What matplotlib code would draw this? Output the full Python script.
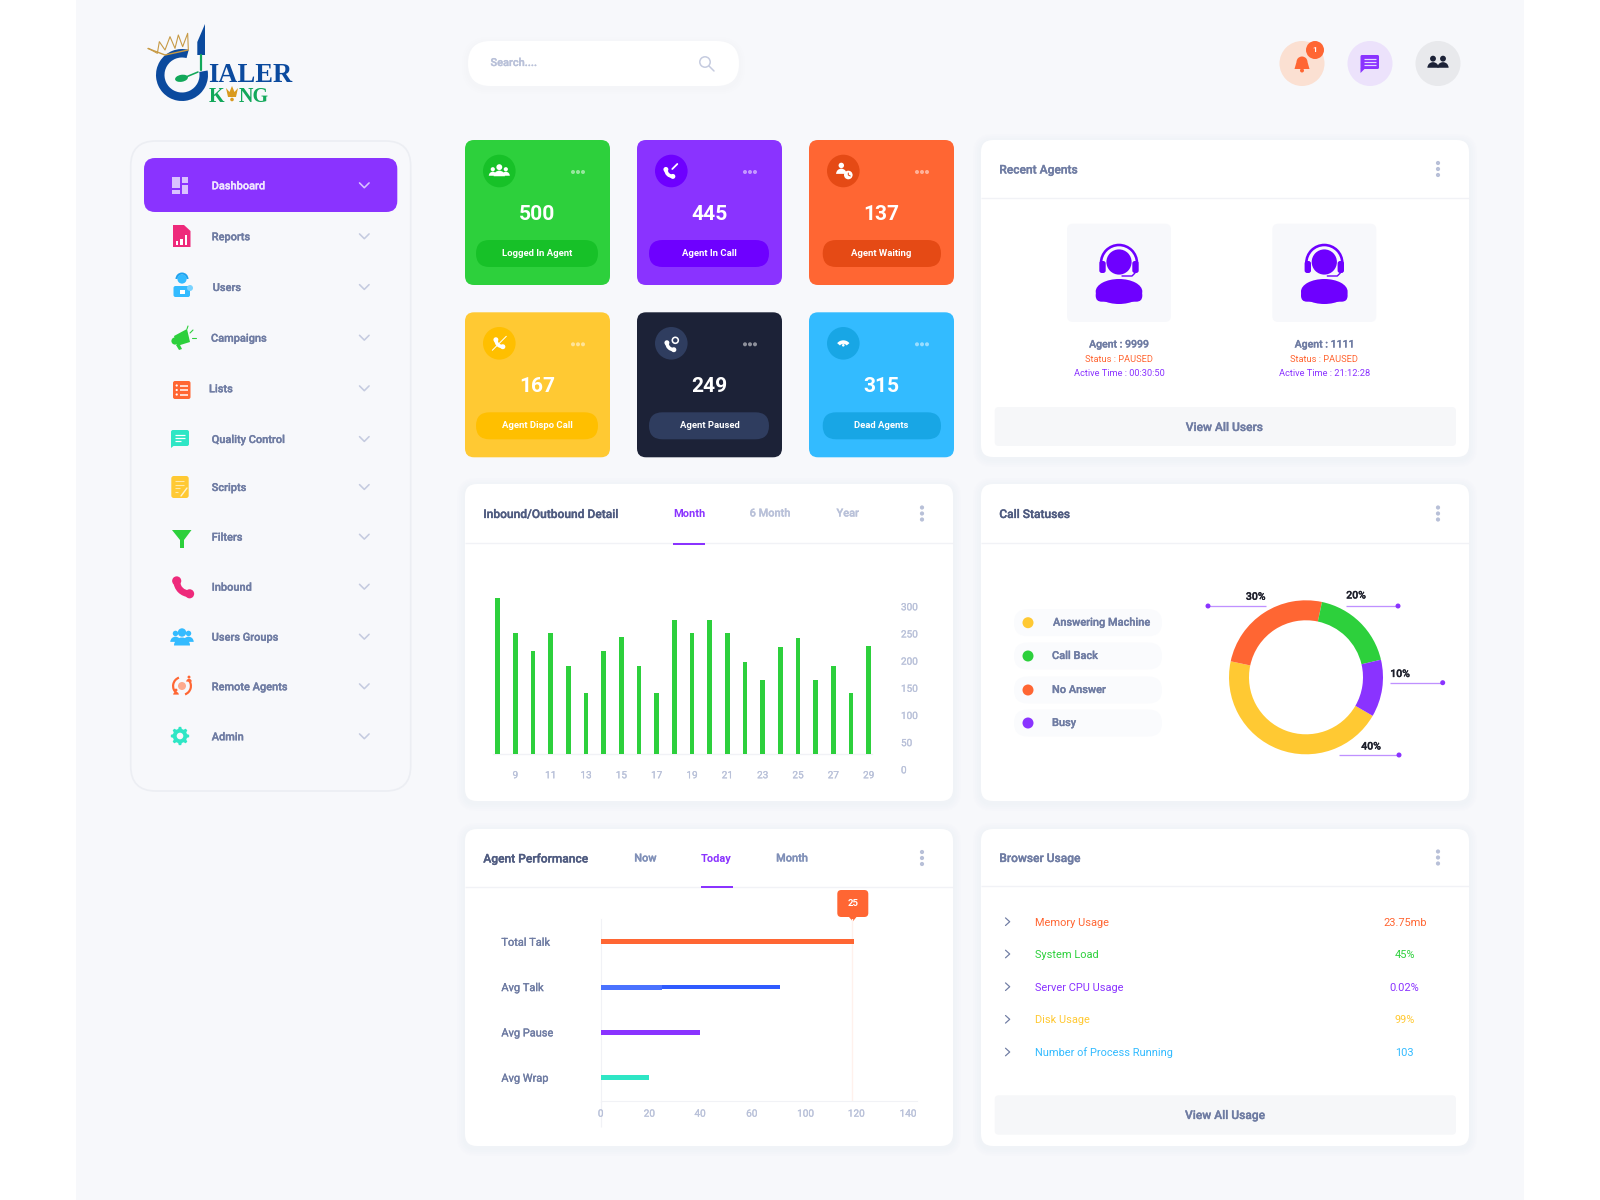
import numpy as np
from matplotlib import patheffects
from matplotlib import pyplot as plt
from matplotlib.patches import Circle, Ellipse, FancyBboxPatch, Polygon, Rectangle, Wedge

plt.rcParams["font.family"] = ["Roboto", "DejaVu Sans"]

W, H = 1600, 1200
PX = 0.72  # font px to points at dpi 100

PURPLE = "#8a33ff"
DEEP = "#6e00ff"
GREEN = "#2dd03c"
ORANGE = "#ff6633"
YELLOW = "#ffc933"
BLUE = "#33bbff"
TEAL = "#2ee6c5"
PINK = "#ee2a7b"
NAVY = "#1c2237"
TITLE = "#4f5b80"
MUTED = "#6f7ca3"
TICK = "#b9c1d9"
BG = "#f7f8fb"

# tiles
tile_values = ["500", "445", "137", "167", "249", "315"]
tile_labels = ["Logged In Agent", "Agent In Call", "Agent Waiting",
               "Agent Dispo Call", "Agent Paused", "Dead Agents"]
tile_colors = [GREEN, PURPLE, ORANGE, YELLOW, NAVY, BLUE]
tile_darks = ["#17c128", DEEP, "#e54a15", "#ffbf00", "#2f3d5f", "#18a6e5"]

# inbound/outbound bars
day_values = [8, 9, 10, 11, 12, 13, 14, 15, 16, 17, 18,
              19, 20, 21, 22, 23, 24, 25, 26, 27, 28, 29]
call_values = [315, 250, 217, 250, 190, 141, 217, 243, 190, 141, 275,
               250, 275, 250, 198, 165, 225, 241, 165, 190, 141, 226]
day_ticks = [9, 11, 13, 15, 17, 19, 21, 23, 25, 27, 29]
call_ticks = [0, 50, 100, 150, 200, 250, 300]

# call statuses
status_names = ["Answering Machine", "Call Back", "No Answer", "Busy"]
status_colors = [YELLOW, GREEN, ORANGE, PURPLE]
status_shares = [45, 18, 25, 12]
status_printed = ["40%", "20%", "30%", "10%"]

# agent performance
perf_names = ["Total Talk", "Avg Talk", "Avg Pause", "Avg Wrap"]
perf_values = [119, 81, 40, 20]
perf_colors = [ORANGE, "#2f5bff", PURPLE, TEAL]
perf_marker = 25
perf_ticks = [0, 20, 40, 60, 100, 120, 140]

# browser usage
usage_names = ["Memory Usage", "System Load", "Server CPU Usage", "Disk Usage",
               "Number of Process Running"]
usage_values = ["23.75mb", "45%", "0.02%", "99%", "103"]
usage_colors = [ORANGE, GREEN, PURPLE, YELLOW, BLUE]

# recent agents
agent_names = ["Agent : 9999", "Agent : 1111"]
agent_times = ["Active Time : 00:30:50", "Active Time : 21:12:28"]

menu_names = ["Reports", "Users", "Campaigns", "Lists", "Quality Control", "Scripts",
              "Filters", "Inbound", "Users Groups", "Remote Agents", "Admin"]
menu_y = [236.3, 287, 337.7, 388.3, 439, 487, 536.7, 586.7, 636.7, 686.3, 736.3]
menu_x = [211.7, 212.7, 211, 209, 211.7, 211.7, 211.7, 211.7, 211.7, 211.7, 211.7]


def px_axes(fig, left, top, right, bottom):
    ax = fig.add_axes([left / W, 1 - bottom / H, (right - left) / W, (bottom - top) / H])
    ax.patch.set_alpha(0)
    return ax


def box(ax, x0, y0, x1, y1, r, color, edge="none", lw=0, zorder=2, alpha=None):
    patch = FancyBboxPatch((x0 + r, y0 + r), x1 - x0 - 2 * r, y1 - y0 - 2 * r,
                           boxstyle=f"round,pad={r},rounding_size={r}", fc=color, ec=edge,
                           lw=lw, zorder=zorder, alpha=alpha)
    ax.add_patch(patch)


def shadow(ax, x0, y0, x1, y1, r, color, spread=14, alpha=0.02, dy=3):
    for s in range(spread, 0, -2):
        box(ax, x0 - s, y0 - s + dy, x1 + s, y1 + s + dy, r + s, color, zorder=1, alpha=alpha)


def thicken(label, color, width=0.22):
    label.set_path_effects([patheffects.withStroke(linewidth=width, foreground=color)])


def txt(ax, x, y, s, size, color, weight="normal", ha="left"):
    label = ax.text(x, y + 1, s, fontsize=size * PX, color=color, fontweight=weight, ha=ha,
                    va="center", zorder=6)
    if weight == "medium":
        thicken(label, color)


def line(ax, xs, ys, color, lw=1.0, zorder=4, cap="round"):
    ax.plot(xs, ys, color=color, lw=lw * PX, zorder=zorder, solid_capstyle=cap,
            solid_joinstyle="round")


def circle(ax, x, y, r, color, zorder=4, alpha=None):
    ax.add_patch(Circle((x, y), r, fc=color, ec="none", zorder=zorder, alpha=alpha))


def poly(ax, pts, color, zorder=4):
    ax.add_patch(Polygon(pts, closed=True, fc=color, ec="none", zorder=zorder))


def kebab(ax, x, y):
    for d in (-6, 0, 6):
        circle(ax, x, y + d, 2.1, "#b8c0d8")


def chevron_down(ax, x, y, color="#c5cbe0"):
    line(ax, [x - 4.8, x, x + 4.8], [y - 2.4, y + 2.4, y - 2.4], color, 1.6)


def phone(ax, x, y, s, color, zorder=5):
    cx, cy = x + 0.55 * s, y - 0.55 * s
    ax.add_patch(Wedge((cx, cy), 1.35 * s, 90, 180, width=0.55 * s, fc=color, ec="none", zorder=zorder))
    circle(ax, cx - 1.075 * s, cy, 0.38 * s, color, zorder)
    circle(ax, cx, cy + 1.075 * s, 0.38 * s, color, zorder)


def person(ax, x, y, s, color, zorder=5):
    circle(ax, x, y - s * 0.55, s * 0.42, color, zorder)
    ax.add_patch(Wedge((x, y + s * 0.75), s * 0.8, 180, 360, fc=color, ec="none", zorder=zorder))


def card(ax, x0, y0, x1, y1, header_y, title, title_color=TITLE):
    shadow(ax, x0, y0, x1, y1, 12, "#dfe3ee", spread=8, alpha=0.05, dy=2)
    box(ax, x0, y0, x1, y1, 12, "white")
    line(ax, [x0, x1], [header_y, header_y], "#f1f2f6", 1.4, cap="butt")
    txt(ax, x0 + 18.3, (y0 + header_y) / 2, title, 12, title_color, "medium")
    kebab(ax, x1 - 31, (y0 + header_y) / 2)


def draw_logo(ax):
    blue = "#0b4a9e"
    green = "#12a85a"
    gold = "#c79a45"
    ax.add_patch(Wedge((182, 75), 26, -10, 285, width=8.5, fc=blue, ec="none", zorder=4))
    poly(ax, [(197.3, 55), (197.3, 42), (205, 24), (205, 55)], blue)
    line(ax, [200.5, 200.5], [55, 70], green, 2.2)
    ax.add_patch(Ellipse((181.5, 78.3), 13, 7, angle=-10, fc=green, ec="none", zorder=5))
    line(ax, [186, 198], [77, 72], green, 1.6)
    crown_x = [85, 112, 118, 135, 150, 165, 175, 188, 203, 205]
    crown_y = [145, 160, 125, 150, 110, 145, 105, 140, 100, 150]
    line(ax, 120 + np.array(crown_x) / 3, np.array(crown_y) / 3, gold, 1.1)
    line(ax, [148, 165, 188], [48.5, 55, 50], gold, 1.4)
    ax.text(208, 82.5, "IALER", fontsize=26.5 * PX, family="Liberation Serif", fontweight="bold",
            color=blue, ha="left", va="baseline", zorder=5)
    ax.text(208.5, 102, "K", fontsize=20 * PX, family="Liberation Serif", fontweight="bold",
            color=green, ha="left", va="baseline", zorder=5)
    ax.text(239, 102, "NG", fontsize=20 * PX, family="Liberation Serif", fontweight="bold",
            color=green, ha="left", va="baseline", zorder=5)
    poly(ax, [(226, 88), (228, 97), (236, 97), (238, 88), (234.5, 92), (232, 86), (229.5, 92)], "#d99a1e")
    circle(ax, 232, 99.5, 1.8, "#d99a1e")


def draw_header(ax):
    shadow(ax, 468, 41, 739, 86, 22, "#e6e9f1", spread=6, alpha=0.06, dy=2)
    box(ax, 468, 41, 739, 86, 22.5, "white")
    txt(ax, 490.5, 62, "Search....", 11, "#b9c1d9", "medium")
    ax.add_patch(Circle((705, 62), 5.2, fc="none", ec="#c5cbdf", lw=1.5 * PX, zorder=4))
    line(ax, [709, 714], [66, 71], "#c5cbdf", 1.5)

    circle(ax, 1302, 63.5, 22.5, "#fbe0d2")
    ax.add_patch(Wedge((1302, 62), 5.5, 180, 360, fc=ORANGE, ec="none", zorder=5))
    poly(ax, [(1296.5, 62), (1307.5, 62), (1309.5, 69), (1294.5, 69)], ORANGE, 5)
    circle(ax, 1302, 70.5, 2, ORANGE, 5)
    circle(ax, 1315, 50, 9, ORANGE, 6)
    txt(ax, 1315, 49, "1", 8, "white", "bold", "center")

    circle(ax, 1370, 63.5, 22.5, "#ece2fb")
    box(ax, 1360.5, 55, 1379, 69, 1.5, PURPLE, zorder=5)
    poly(ax, [(1360.5, 68), (1360.5, 73), (1365.5, 68)], PURPLE, 5)
    for y in (59, 62, 65):
        line(ax, [1364, 1375.5], [y, y], "#e6d8ff", 1.2, 6, "butt")

    circle(ax, 1438, 63.5, 22.5, "#e8e9ec")
    person(ax, 1433, 62.5, 7, NAVY)
    person(ax, 1443, 62.5, 7, NAVY)


def draw_sidebar(ax):
    box(ax, 130.7, 141, 410.7, 791, 25, BG, "#eceef3", 1.2)
    shadow(ax, 144, 158, 397.3, 212, 11, PURPLE, spread=14, alpha=0.018, dy=8)
    box(ax, 144, 158, 397.3, 212, 11, PURPLE, zorder=3)
    txt(ax, 211.7, 185.3, "Dashboard", 11, "#f0e6ff", "medium")
    chevron_down(ax, 364.3, 185.3, "#d9c2ff")
    for x0, y0, x1, y1 in [(172, 177, 180, 188), (182, 177, 188, 183),
                           (172, 190, 180, 194), (182, 185, 188, 194)]:
        ax.add_patch(Rectangle((x0, y0), x1 - x0, y1 - y0, fc="#d9c2ff", ec="none", zorder=5))

    for name, x, y in zip(menu_names, menu_x, menu_y):
        txt(ax, x, y, name, 11, MUTED, "medium")
        chevron_down(ax, 364.3, y)

    # reports
    poly(ax, [(173, 225), (184, 225), (190.5, 231), (190.5, 247), (173, 247)], PINK)
    for x, top in [(177, 241), (181.5, 238.5), (186, 235)]:
        ax.add_patch(Rectangle((x - 1.2, top), 2.5, 244.5 - top, fc="white", ec="none", zorder=5))
    # users
    circle(ax, 182, 279, 4.6, BLUE)
    ax.add_patch(Wedge((182, 279), 6.5, 180, 360, width=2, fc="#1fa2ee", ec="none", zorder=5))
    box(ax, 173.5, 286, 190, 297, 2, BLUE)
    circle(ax, 190, 288, 3, "#7ad3ff")
    ax.add_patch(Rectangle((179.5, 289.5), 5, 4, fc="white", ec="none", zorder=5))
    # campaigns
    poly(ax, [(174, 336), (187, 329), (190, 342), (177, 346)], GREEN)
    circle(ax, 175, 341, 3.6, GREEN)
    poly(ax, [(176, 345), (180, 345), (182, 349), (179, 350)], GREEN)
    for a, b in [((190, 333), (193, 330)), ((192, 338), (196, 338)), ((187, 329), (188, 326))]:
        line(ax, [a[0], b[0]], [a[1], b[1]], GREEN, 1.1)
    # lists
    box(ax, 173, 381, 190.5, 399, 2, ORANGE)
    for y in (385.5, 390, 394.5):
        circle(ax, 176.7, y, 1.1, "white", 5)
        line(ax, [180, 187.5], [y, y], "white", 1.5, 5, "butt")
    # quality control
    box(ax, 171, 430, 189, 446, 2, TEAL)
    poly(ax, [(171, 444), (171, 448), (176, 444)], TEAL)
    for y, end in [(434.5, 185), (437.5, 185), (440.5, 181)]:
        line(ax, [175, end], [y, y], "white", 1.2, 5, "butt")
    # scripts
    box(ax, 171.3, 476, 188.7, 498, 2.5, YELLOW)
    for y, end in [(481, 184), (484.5, 184), (488, 180), (491.5, 178)]:
        line(ax, [174.5, end], [y, y], "#ffe9a8", 1.1, 5, "butt")
    line(ax, [181, 187], [496, 488], "#fff3cc", 1.4, 5)
    # filters
    poly(ax, [(172, 530), (191.5, 530), (184, 540), (184, 548), (180, 548), (180, 540)], GREEN)
    # inbound
    phone(ax, 183, 587.5, 12, PINK)
    # users groups
    person(ax, 182, 638, 10, BLUE, 6)
    person(ax, 175.5, 637, 6.5, BLUE)
    person(ax, 188.5, 637, 6.5, BLUE)
    # remote agents
    ax.add_patch(Wedge((182, 686), 10, 130, 250, width=2.2, fc=ORANGE, ec="none", zorder=4))
    ax.add_patch(Wedge((182, 686), 10, 320, 70, width=2.2, fc=ORANGE, ec="none", zorder=4))
    circle(ax, 182, 686, 4, "#fda98c")
    person(ax, 189, 679, 3.5, ORANGE)
    person(ax, 176, 692, 3.5, ORANGE)
    # admin
    gear_a = np.linspace(0, 2 * np.pi, 48, endpoint=False)
    gear_r = np.where(np.floor(gear_a / (2 * np.pi / 8) * 2 + 0.5) % 2 == 0, 9.2, 7.2)
    poly(ax, np.c_[180 + gear_r * np.cos(gear_a), 736 + gear_r * np.sin(gear_a)], TEAL)
    circle(ax, 180, 736, 3.3, BG, 5)


def draw_tiles(ax):
    xs = [465, 637, 809]
    ys = [140, 312.3]
    pads = [(11, 12), (12, 13), (13.7, 13)]
    for i in range(6):
        x0 = xs[i % 3]
        y0 = ys[i // 3]
        c, d = tile_colors[i], tile_darks[i]
        box(ax, x0, y0, x0 + 145, y0 + 145, 9, c)
        circle(ax, x0 + 34.3, y0 + 31, 16.3, d)
        for k in (-5, 0, 5):
            circle(ax, x0 + 113 + k, y0 + 32, 2, "white", alpha=0.5)
        txt(ax, x0 + 72.5, y0 + 73.5, tile_values[i], 21, "white", "bold", "center")
        box(ax, x0 + pads[i % 3][0], y0 + 100, x0 + 145 - pads[i % 3][1], y0 + 127, 13.5, d)
        txt(ax, x0 + 72.5, y0 + 112.5, tile_labels[i], 9.5, "white", "bold", "center")

    ix, iy = xs[0] + 34.3, ys[0] + 31
    person(ax, ix, iy, 7, "white")
    person(ax, ix - 6.5, iy + 1, 5, "white")
    person(ax, ix + 6.5, iy + 1, 5, "white")
    ix, iy = xs[1] + 34.3, ys[0] + 31
    phone(ax, ix - 2, iy + 2, 6.5, "white")
    line(ax, [ix + 1, ix + 6], [iy - 2, iy - 7], "white", 1.8)
    ix, iy = xs[2] + 34.3, ys[0] + 31
    person(ax, ix - 2, iy - 2, 6.5, "white")
    circle(ax, ix + 5, iy + 4, 4.3, "white", 6)
    line(ax, [ix + 5, ix + 5, ix + 7], [iy + 2, iy + 4, iy + 5], tile_darks[2], 1, 7)
    ix, iy = xs[0] + 34.3, ys[1] + 31
    phone(ax, ix, iy, 6.5, "white")
    line(ax, [ix - 7, ix + 7], [iy + 7, iy - 7], "white", 1)
    ix, iy = xs[1] + 34.3, ys[1] + 31
    phone(ax, ix - 1, iy + 3, 6.5, "white")
    ax.add_patch(Circle((ix + 4, iy - 3), 3, fc="none", ec="white", lw=1.6 * PX, zorder=6))
    ix, iy = xs[2] + 34.3, ys[1] + 31
    ax.add_patch(Wedge((ix, iy + 5), 8, 220, 320, width=3.6, fc="white", ec="none", zorder=6))
    circle(ax, ix, iy + 2, 1.3, "white", 6)


def draw_agents(ax):
    card(ax, 981, 140, 1469, 457, 198, "Recent Agents", MUTED)
    for i, cx in enumerate([1119, 1324.3]):
        box(ax, cx - 52, 223.7, cx + 52, 322, 6, BG)
        circle(ax, cx, 262, 12.6, DEEP)
        ax.add_patch(Wedge((cx, 263), 19.3, 180, 360, width=2.6, fc=DEEP, ec="none", zorder=4))
        box(ax, cx - 19.7, 261, cx - 13.3, 273, 2.5, DEEP)
        box(ax, cx + 13.3, 261, cx + 19.7, 273, 2.5, DEEP)
        line(ax, [cx + 16, cx + 13, cx + 3], [273, 276, 276], DEEP, 1.4)
        ax.add_patch(Ellipse((cx, 291.5), 46.6, 25, fc=DEEP, ec="none", zorder=4))
        box(ax, cx - 23.3, 289, cx + 23.3, 301.7, 6, DEEP, zorder=4)
        txt(ax, cx, 343.5, agent_names[i], 10.5, MUTED, "medium", "center")
        txt(ax, cx, 358.5, "Status : PAUSED", 9.3, ORANGE, "normal", "center")
        txt(ax, cx, 373, agent_times[i], 9.3, PURPLE, "normal", "center")
    box(ax, 994.7, 407, 1456, 446, 4, "#f6f7f9")
    txt(ax, 1224.3, 426.5, "View All Users", 12, MUTED, "medium", "center")


def draw_inbound(fig, ax):
    card(ax, 465, 484, 953, 801, 543, "Inbound/Outbound Detail")
    txt(ax, 689, 513, "Month", 11, PURPLE, "bold", "center")
    txt(ax, 770, 512.5, "6 Month", 11, TICK, "medium", "center")
    txt(ax, 847.7, 512.5, "Year", 11, TICK, "medium", "center")
    line(ax, [673.3, 705], [543.5, 543.5], PURPLE, 2, 5, "butt")

    # the printed scale has its zero below the foot of the bars
    unit_px = 27.17 / 50
    foot = 15 / unit_px
    chart = px_axes(fig, 480, 590, 900, 769.3)
    chart.set_ylim(0, (769.3 - 590) / unit_px)
    step = 53 / 3
    chart.set_xlim(8 - (497.7 - 480) / step, 8 + (900 - 497.7) / step)
    chart.bar(day_values, np.array(call_values) - foot, bottom=foot, width=4.6 / step, color=GREEN, zorder=3)
    chart.plot([7.75, 29.2], [foot, foot], color="#f1f2f6", lw=1, zorder=2)
    chart.set_xticks(day_ticks)
    chart.set_yticks(call_ticks)
    chart.yaxis.tick_right()
    chart.tick_params(length=0, labelsize=10 * PX, labelcolor=TICK, pad=0.7)
    for label in chart.get_xticklabels() + chart.get_yticklabels():
        thicken(label, TICK, 0.15)
    for spine in chart.spines.values():
        spine.set_visible(False)


def draw_statuses(fig, ax):
    card(ax, 981, 484, 1469, 801, 543, "Call Statuses")
    for name, color, y, x in zip(status_names, status_colors, [622.7, 656, 690, 723],
                                 [1053, 1052, 1052, 1052]):
        box(ax, 1014, y - 13.5, 1162, y + 13.5, 13.5, "#fafbfd")
        circle(ax, 1028, y, 5.5, color)
        txt(ax, x, y - 1, name, 11, MUTED, "medium")

    ring = px_axes(fig, 1226, 597.3, 1386, 757.3)
    # clockwise from the lower right of the ring
    order = [0, 2, 1, 3]
    ring.pie([status_shares[i] for i in order], colors=[status_colors[i] for i in order],
             startangle=-30, counterclock=False, radius=1, wedgeprops={"width": 20 / 77})
    ring.set_xlim(-80 / 77, 80 / 77)
    ring.set_ylim(-80 / 77, 80 / 77)

    callouts = [(0, 1339, 1399, 755, 1371, 745.5), (1, 1345.7, 1398, 606, 1356, 594.5),
                (2, 1265.7, 1208, 606, 1255.7, 595.8), (3, 1390, 1442.7, 682.7, 1400, 673)]
    for i, x0, x1, y, tx, ty in callouts:
        line(ax, [x0, x1], [y, y], "#bf91ff", 1.3, 7, "butt")
        circle(ax, x1, y, 2.5, PURPLE, 8)
        txt(ax, tx, ty, status_printed[i], 10.5, "#1d1f2b", "medium", "center")


def draw_performance(fig, ax):
    card(ax, 465, 829, 953, 1146, 887, "Agent Performance")
    txt(ax, 645.3, 857.5, "Now", 11, "#8090b8", "medium", "center")
    txt(ax, 716, 857.5, "Today", 11, PURPLE, "bold", "center")
    txt(ax, 792, 857.5, "Month", 11, "#8090b8", "medium", "center")
    line(ax, [700.7, 732.7], [887.3, 887.3], PURPLE, 2, 5, "butt")

    # the printed scale skips 80, so distances follow where its labels sit
    scale_marks = perf_ticks + [160]
    scale_steps = [0, 0.95, 1.94, 2.95, 4.0, 4.99, 6, 7]
    chart = px_axes(fig, 600.7, 919, 917, 1101)
    chart.set_xscale("function", functions=(lambda v: np.interp(v, scale_marks, scale_steps),
                                            lambda s: np.interp(s, scale_steps, scale_marks)))
    chart.set_xlim(0, 143.5)
    row = np.arange(len(perf_names))
    chart.set_ylim(3.515, -0.503)
    chart.barh(row, perf_values, height=0.104, color=perf_colors, zorder=3)
    chart.barh(1 + 0.01, perf_marker, height=0.12, color="#4a72ff", zorder=4)
    chart.axvline(perf_values[0] - 0.5, color="#fff1ec", lw=1, zorder=1)
    chart.set_xticks(perf_ticks)
    chart.minorticks_off()
    chart.set_yticks(row, perf_names)
    chart.tick_params(axis="x", length=0, labelsize=10 * PX, labelcolor=TICK, pad=5.5)
    chart.tick_params(axis="y", length=0, labelsize=11 * PX, labelcolor=MUTED, pad=71.5)
    for label in chart.get_xticklabels():
        thicken(label, TICK, 0.15)
    for label in chart.get_yticklabels():
        label.set_ha("left")
        thicken(label, MUTED)
    for side in ("top", "right"):
        chart.spines[side].set_visible(False)
    chart.spines["left"].set_color("#f1f2f6")
    chart.spines["bottom"].set_color("#f1f2f6")
    line(ax, [600.7, 600.7], [1101, 1127], "#f1f2f6", 1.2, 3, "butt")

    shadow(ax, 837.3, 890, 868.3, 917, 5, ORANGE, spread=10, alpha=0.012, dy=2)
    box(ax, 837.3, 890, 868.3, 917, 4, ORANGE, zorder=5)
    poly(ax, [(849, 917), (856.5, 917), (852.8, 921.5)], ORANGE, 5)
    txt(ax, 852.8, 902.5, str(perf_marker), 9.5, "white", "bold", "center")


def draw_usage(ax):
    card(ax, 981, 829, 1469, 1146, 886, "Browser Usage", MUTED)
    for name, value, color, y in zip(usage_names, usage_values, usage_colors,
                                     [921.7, 954, 986.7, 1019.3, 1052]):
        line(ax, [1005.5, 1009.7, 1005.5], [y - 3.8, y, y + 3.8], "#6f7ca3", 1.2)
        txt(ax, 1035.3, y, name, 11, color)
        txt(ax, 1404.7, y, value, 11, color, "normal", "center")
    box(ax, 994.7, 1095.3, 1456, 1134.7, 4, "#f6f7f9")
    txt(ax, 1225, 1114.5, "View All Usage", 12, MUTED, "medium", "center")


def main():
    fig = plt.figure(figsize=(W / 100, H / 100), dpi=100, facecolor="white")
    page = fig.add_axes([0, 0, 1, 1])
    page.set_xlim(0, W)
    page.set_ylim(H, 0)
    page.axis("off")
    page.add_patch(Rectangle((76, 0), 1448, H, fc=BG, ec="none", zorder=0))

    draw_logo(page)
    draw_header(page)
    draw_sidebar(page)
    draw_tiles(page)
    draw_agents(page)
    draw_inbound(fig, page)
    draw_statuses(fig, page)
    draw_performance(fig, page)
    draw_usage(page)

    page.set_xlim(0, W)
    page.set_ylim(H, 0)
    fig.savefig("out.png", dpi=100)


if __name__ == "__main__":
    main()
